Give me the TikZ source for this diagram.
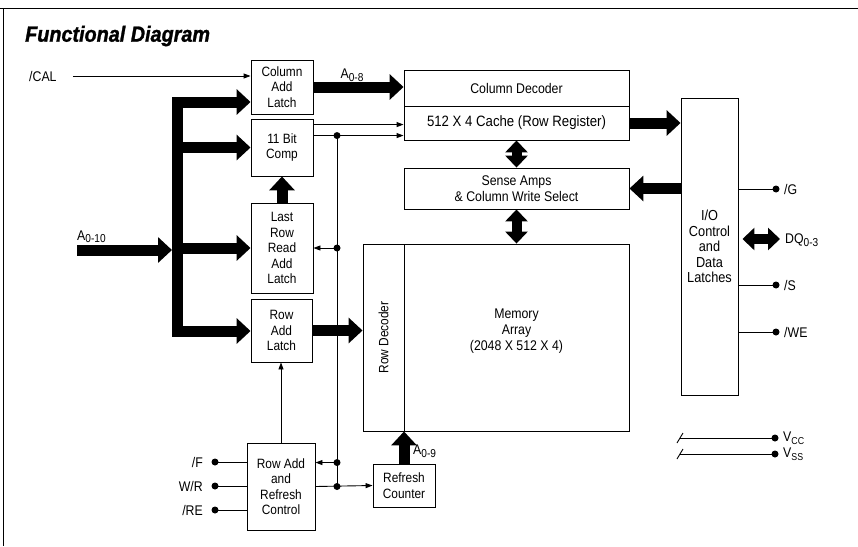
\documentclass[tikz,border=0pt]{standalone}
\usepackage{fontspec}
\setmainfont{Liberation Sans}[FakeStretch=0.88]
\newfontfamily\titlefont{Liberation Sans}[FakeStretch=0.9, FakeBold=1.2]
\usetikzlibrary{arrows.meta,calc}
\newcommand{\lowsub}[1]{\raisebox{-0.35ex}{\fontsize{11.5}{12}\selectfont #1}}

\begin{document}
\begin{tikzpicture}[
        x=1pt, y=-1pt,
        blk/.style={draw, line width=0.9pt, align=center, inner sep=0pt,
            font=\fontsize{13.5}{15.5}\selectfont},
        lbl/.style={inner sep=1pt, font=\fontsize{14}{15.5}\selectfont},
        sig/.style={line width=0.9pt},
        sigarrow/.style={sig, -{Triangle[length=7pt, width=5pt]}},
        bus/.style={line width=11pt, -{Triangle[length=14pt, width=25pt]}},
        dbus/.style={line width=10pt,
            {Triangle[length=12pt, width=22pt]}-{Triangle[length=12pt, width=22pt]}}
    ]
    \useasboundingbox (0,0) rectangle (858,546);
    % frame and title
    \draw[line width=1.5pt] (0,8.5) -- (858,8.5) (3.5,8.5) -- (3.5,546);
    \node[anchor=west, inner sep=0pt,
        font=\titlefont\bfseries\itshape\fontsize{22}{26}\selectfont]
        (title) at (25,36) {Functional Diagram};

    % address side blocks
    \node[blk, minimum width=62, minimum height=54] (cal) at (282,87) {Column\\Add\\Latch};
    \node[blk, minimum width=62, minimum height=57] (comp) at (282,147.5) {11 Bit\\Comp};
    \node[blk, minimum width=62, minimum height=90] (lrr) at (282,248) {Last\\Row\\Read\\Add\\Latch};
    \node[blk, minimum width=61, minimum height=63] (ral) at (281.5,330.5) {Row\\Add\\Latch};
    \node[blk, minimum width=68, minimum height=87] (rfc) at (281,486.5) {Row Add\\and\\Refresh\\Control};
    \node[blk, minimum width=62, minimum height=43] (rcnt) at (404,485.5) {Refresh\\Counter};

    % array side blocks
    \node[blk, minimum width=225, minimum height=36, font=\fontsize{14}{16}\selectfont]
        (cdec) at (516.5,88) {Column Decoder};
    \node[blk, minimum width=225, minimum height=34, font=\fontsize{15}{17}\selectfont]
        (cache) at (516.5,123) {512 X 4 Cache (Row Register)};
    \node[blk, minimum width=225, minimum height=41, font=\fontsize{14}{15.5}\selectfont]
        (sense) at (516.5,188.5) {Sense Amps\\\& Column Write Select};
    \node[blk, minimum width=41, minimum height=187] (rdec) at (383.5,337.5) {};
    \node[rotate=90, inner sep=0pt, font=\fontsize{13.5}{15.5}\selectfont]
        (rdec-txt) at (rdec) {Row Decoder};
    \node[blk, minimum width=225, minimum height=187] (mem) at (516.5,337.5) {};
    \node[align=center, inner sep=0pt, font=\fontsize{14}{16}\selectfont]
        (mem-txt) at ($(mem.center)+(0,-6)$) {Memory\\Array\\(2048 X 512 X 4)};
    \node[blk, minimum width=57, minimum height=297, font=\fontsize{14.5}{15.5}\selectfont]
        (io) at (709.5,246.5) {I/O\\Control\\and\\Data\\Latches};

    % /CAL
    \node[lbl, anchor=west] (cal-in) at (28,76) {/CAL};
    \draw[sigarrow] ([xshift=15pt]cal-in.east) -- (cal-in.east -| cal.west);

    % address bus
    \coordinate (bt) at (177.5,102);
    \coordinate (bb) at (177.5,331);
    \coordinate (ain) at (77,250);
    \draw[bus] (bb) -- (bt) -- (bt -| cal.west);
    \draw[bus] (bt) -- (bb) -- (bb -| ral.west);
    \foreach \n in {comp, lrr}
        \draw[bus] (bt |- \n.west) -- (\n.west);
    \draw[bus] (ain) -- ([xshift=-5.5pt]bt |- ain);
    \node[lbl, anchor=south west] (a010) at (76,244) {A\lowsub{0-10}};

    % column address
    \draw[bus] (cal.east) -- (cal.east -| cdec.west);
    \node[lbl] (a08) at (352,75) {A\lowsub{0-8}};

    % compare outputs and refresh lines
    \coordinate (c1) at ([yshift=-6pt]comp.north east);
    \coordinate (c2) at ([yshift=-17pt]comp.north east);
    \coordinate (v) at (337,0);
    \coordinate (rin) at ([yshift=-20pt]rfc.north east);
    \draw[sigarrow] (c1) -- (c1 -| cache.west);
    \draw[sigarrow] (c2) -- (c2 -| cache.west);
    \draw[sig] (c2 -| v) -- (rfc.east -| v);
    \draw[sigarrow] (lrr.east -| v) -- (lrr.east);
    \draw[sigarrow] (rin -| v) -- (rin);
    \draw[sigarrow] (rfc.east) -- (rcnt.west);
    \foreach \p in {c2, lrr.east, rin, rfc.east}
        \fill (\p -| v) circle (3.5);

    % row path
    \draw[bus] (lrr.north) -- (comp.south);
    \draw[sigarrow] (rfc.north) -- (rfc.north |- ral.south);
    \draw[bus] (ral.east) -- (ral.east -| rdec.west);
    \draw[bus] (rcnt.north) -- (rcnt.north |- mem.south);
    \node[lbl, anchor=west] (a09) at (412,451) {A\lowsub{0-9}};

    % data path
    \draw[bus] (cache.east) -- (cache.east -| io.west);
    \draw[bus] (sense.east -| io.west) -- (sense.east);
    \draw[dbus] (sense.north) -- (cache.south);
    \draw[dbus] (sense.south) -- (sense.south |- mem.north);

    % control inputs
    \foreach \y/\t/\n in {462/{/F}/f, 486/{W/R}/wr, 510/{/RE}/re} {
        \fill (215,\y) circle (3.5);
        \draw[sig] (215,\y) -- (rfc.west |- 0,\y);
        \node[lbl, anchor=east] (pin-\n) at (204,\y) {\t};
    }

    % I/O pins
    \foreach \y/\t/\n in {189/{/G}/g, 285/{/S}/s, 332/{/WE}/we} {
        \fill (776,\y) circle (3.5);
        \draw[sig] (io.east |- 0,\y) -- (776,\y);
        \node[lbl, anchor=west] (pin-\n) at (783,\y) {\t};
    }
    \coordinate (dq) at (780,239);
    \draw[dbus] ([xshift=4pt]io.east |- dq) -- (dq);
    \node[lbl, anchor=west] (pin-dq) at (784,240) {DQ\lowsub{0-3}};

    % supplies
    \foreach \y/\t/\n in {438/{V\lowsub{\fontsize{10}{10}\selectfont CC}}/vcc, 454/{V\lowsub{\fontsize{10}{10}\selectfont SS}}/vss} {
        \draw[sig] (680,\y) -- (775,\y);
        \draw[sig] (677,\y+5) -- (683,\y-5);
        \fill (775,\y) circle (3.5);
        \node[lbl, anchor=west] (pin-\n) at (782,\y) {\t};
    }
\end{tikzpicture}
\end{document}
